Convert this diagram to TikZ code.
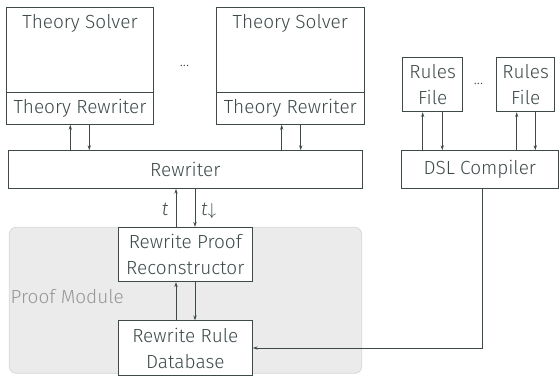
\documentclass[tikz,border=0pt]{standalone}
\usepackage{fontspec}
\setmainfont{Fira Sans Light}[ItalicFont={Fira Sans Light Italic}]
\usetikzlibrary{arrows.meta}
\definecolor{ink}{RGB}{62,74,74}
\definecolor{pmfill}{RGB}{235,235,235}
\definecolor{pmline}{RGB}{214,214,214}
\definecolor{pmtext}{RGB}{150,150,150}
\tikzset{
  box/.style={draw=ink, line width=0.8pt, fill=white, inner sep=0pt, text=ink,
    font=\fontsize{19}{26}\selectfont, align=center},
  txt/.style={inner sep=0pt, text=ink, font=\fontsize{19}{26}\selectfont},
  arr/.style={draw=ink, line width=0.8pt, -{Stealth[length=5pt,width=3.2pt]}},
}
\begin{document}
\begin{tikzpicture}[x=1pt,y=-1pt]
\useasboundingbox (0,0) rectangle (559,375);
% proof module background
\node[draw=pmline, fill=pmfill, rounded corners=7pt, line width=0.8pt,
  minimum width=352.4pt, minimum height=146pt, inner sep=0pt] (pm) at (185.5,300.3) {};
\node[txt, text=pmtext, anchor=base west] (pmlabel) at (10.5,303) {Proof Module};
% theory solvers
\node[box, minimum width=146.6pt, minimum height=85.4pt] (ts1) at (80,50) {};
\node[txt, anchor=base] (ts1label) at (80,28.3) {Theory Solver};
\node[box, minimum width=146.6pt, minimum height=31.6pt] (tr1) at (80,108.5) {Theory Rewriter};
\node[box, minimum width=147.3pt, minimum height=85.4pt] (ts2) at (290.3,50) {};
\node[txt, anchor=base] (ts2label) at (290.3,28.3) {Theory Solver};
\node[box, minimum width=147.3pt, minimum height=31.6pt] (tr2) at (290.3,108.5) {Theory Rewriter};
\node[txt, font=\fontsize{15}{16}\selectfont, anchor=base] (dots1) at (184.5,66) {...};
% rewriter
\node[box, minimum width=354pt, minimum height=37.6pt] (rw) at (185.3,169.5) {Rewriter};
% rules files
\node[box, minimum width=60pt, minimum height=54.4pt] (rf1) at (432.7,84.5) {Rules\\File};
\node[box, minimum width=58pt, minimum height=54.4pt] (rf2) at (525.7,84.5) {Rules\\File};
\node[txt, font=\fontsize{15}{16}\selectfont, anchor=base] (dots2) at (478.5,84) {...};
\node[box, minimum width=157.5pt, minimum height=37.6pt] (dsl) at (479.8,169.5) {DSL Compiler};
% proof module boxes
\node[box, minimum width=134pt, minimum height=54.4pt] (rpr) at (185.3,254.5) {Rewrite Proof\\Reconstructor};
\node[box, minimum width=134pt, minimum height=54.4pt] (rrd) at (185.3,348) {Rewrite Rule\\Database};
% arrows theory rewriters <-> rewriter
\coordinate (a1) at ([xshift=-9.7pt]tr1.south);
\coordinate (b1) at ([xshift=9.3pt]tr1.south);
\draw[arr] (a1 |- rw.north) -- (a1);
\draw[arr] (b1) -- (b1 |- rw.north);
\coordinate (a2) at ([xshift=-8.6pt]tr2.south);
\coordinate (b2) at ([xshift=10.4pt]tr2.south);
\draw[arr] (a2 |- rw.north) -- (a2);
\draw[arr] (b2) -- (b2 |- rw.north);
% rules files <-> dsl
\coordinate (a3) at ([xshift=-10pt]rf1.south);
\coordinate (b3) at ([xshift=9.6pt]rf1.south);
\draw[arr] (a3 |- dsl.north) -- (a3);
\draw[arr] (b3) -- (b3 |- dsl.north);
\coordinate (a4) at ([xshift=-9pt]rf2.south);
\coordinate (b4) at ([xshift=9.6pt]rf2.south);
\draw[arr] (a4 |- dsl.north) -- (a4);
\draw[arr] (b4) -- (b4 |- dsl.north);
% rewriter <-> rpr
\coordinate (a5) at ([xshift=-9.3pt]rpr.north);
\coordinate (b5) at ([xshift=9.7pt]rpr.north);
\draw[arr] (a5) -- (a5 |- rw.south);
\draw[arr] (b5 |- rw.south) -- (b5);
\node[txt, font=\fontsize{19}{22}\selectfont\itshape, anchor=base] (tl) at (165,215) {t};
\node[txt, font=\fontsize{19}{22}\selectfont, anchor=base west] (tdl) at (201,215) {\textit{t}$\downarrow$};
% rpr <-> rrd
\coordinate (a6) at ([xshift=-9.3pt]rrd.north);
\coordinate (b6) at ([xshift=9.7pt]rrd.north);
\draw[arr] (a6) -- (a6 |- rpr.south);
\draw[arr] (b6 |- rpr.south) -- (b6);
% dsl -> rrd
\coordinate (c1) at (482.3,188.3);
\draw[arr] (c1 |- dsl.south) |- (rrd.east);
\end{tikzpicture}
\end{document}
